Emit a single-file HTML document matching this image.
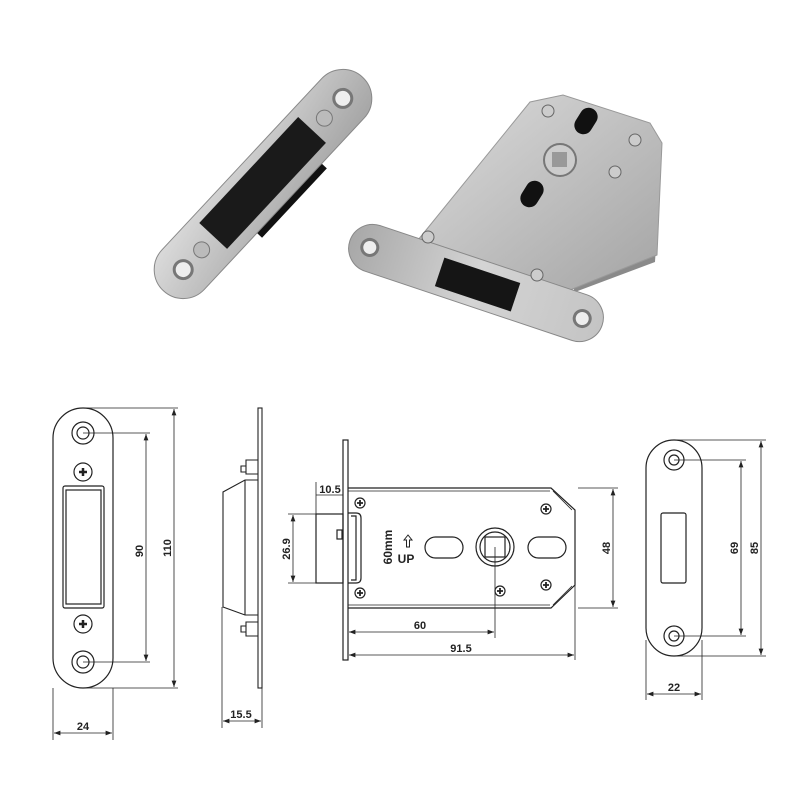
<!DOCTYPE html>
<html><head><meta charset="utf-8"><style>
html,body{margin:0;padding:0;background:#fff;}
svg{display:block;}
text{font-family:"Liberation Sans",sans-serif;font-weight:bold;font-size:11px;fill:#222;}
</style></head><body>
<svg width="800" height="800" viewBox="0 0 800 800" xmlns="http://www.w3.org/2000/svg">
<defs>
<linearGradient id="steel" x1="0" y1="0" x2="1" y2="1">
<stop offset="0" stop-color="#dcdcdc"/><stop offset="0.5" stop-color="#c0c0c0"/><stop offset="1" stop-color="#a4a4a4"/></linearGradient>
<linearGradient id="steel2" x1="0" y1="0" x2="1" y2="0">
<stop offset="0" stop-color="#a8a8a8"/><stop offset="0.5" stop-color="#d4d4d4"/><stop offset="1" stop-color="#c4c4c4"/></linearGradient>
<marker id="a" markerWidth="8" markerHeight="6" refX="8" refY="3" orient="auto-start-reverse"><path d="M0,0 L8,3 L0,6 z" fill="#222"/></marker>
</defs>

<!-- Photo: strike plate -->
<g transform="translate(263,184) rotate(-47)">
<rect x="-40" y="6" width="95" height="30" fill="#111"/>
<rect x="-146" y="-29" width="292" height="58" rx="29" fill="url(#steel)" stroke="#888"/>
<rect x="-72" y="-20" width="145" height="38" fill="#1a1a1a"/>
<circle cx="-117" cy="0" r="9" fill="#eee" stroke="#777" stroke-width="3"/>
<circle cx="117" cy="0" r="9" fill="#eee" stroke="#777" stroke-width="3"/>
<circle cx="-90" cy="0" r="8" fill="#bbb" stroke="#777"/>
<circle cx="90" cy="0" r="8" fill="#bbb" stroke="#777"/>
</g>

<!-- Photo: lock body -->
<polygon points="662,143 660,180 655,262 575,292 570,280 650,250 652,135" fill="#8a8a8a"/>
<polygon points="418,240 530,102 563,95 650,123 662,143 657,255 570,290" fill="url(#steel)" stroke="#999"/>
<rect x="572" y="112" width="28" height="18" rx="9" transform="rotate(-58 586 121)" fill="#111"/>
<rect x="518" y="185" width="28" height="18" rx="9" transform="rotate(-58 532 194)" fill="#111"/>
<circle cx="560" cy="160" r="16" fill="#ccc" stroke="#777" stroke-width="2"/>
<rect x="552" y="152" width="15" height="15" fill="#999"/>
<circle cx="548" cy="111" r="6" fill="#ccc" stroke="#666"/>
<circle cx="635" cy="140" r="6" fill="#ccc" stroke="#666"/>
<circle cx="615" cy="172" r="6" fill="#ccc" stroke="#666"/>
<g transform="translate(476,283) rotate(18.5)">
<rect x="-133" y="-24" width="266" height="48" rx="24" fill="url(#steel2)" stroke="#888"/>
<rect x="-38" y="-14" width="80" height="30" fill="#151515"/>
<circle cx="-112" cy="0" r="8" fill="#eee" stroke="#777" stroke-width="3"/>
<circle cx="112" cy="0" r="8" fill="#eee" stroke="#777" stroke-width="3"/>
</g>
<circle cx="428" cy="237" r="6" fill="#ccc" stroke="#666"/>
<circle cx="537" cy="275" r="6" fill="#ccc" stroke="#666"/>

<!-- Drawing 1: strike front -->
<g fill="none" stroke="#222" stroke-width="1.2">
<rect x="53" y="408" width="60" height="280" rx="30"/>
<circle cx="83" cy="433" r="11"/><circle cx="83" cy="433" r="6"/>
<circle cx="83" cy="662" r="11"/><circle cx="83" cy="662" r="6"/>
<circle cx="83" cy="472" r="9"/><circle cx="83" cy="624" r="9"/>
<path d="M79,472h8M83,468v8M79,624h8M83,620v8" stroke-width="2.5"/>
<rect x="63" y="486" width="41" height="122" rx="2"/>
<rect x="66" y="490" width="35" height="114"/>
<g stroke-width="0.8">
<line x1="83" y1="433" x2="150" y2="433"/><line x1="83" y1="662" x2="150" y2="662"/>
<line x1="83" y1="408" x2="178" y2="408"/><line x1="83" y1="688" x2="178" y2="688"/>
<line x1="146" y1="434" x2="146" y2="661" marker-start="url(#a)" marker-end="url(#a)"/>
<line x1="174" y1="409" x2="174" y2="687" marker-start="url(#a)" marker-end="url(#a)"/>
<line x1="53" y1="688" x2="53" y2="740"/><line x1="113" y1="688" x2="113" y2="740"/>
<line x1="54" y1="733" x2="112" y2="733" marker-start="url(#a)" marker-end="url(#a)"/>
</g>
</g>
<text x="0" y="0" transform="translate(143,551) rotate(-90)" text-anchor="middle">90</text>
<text x="0" y="0" transform="translate(171,548) rotate(-90)" text-anchor="middle">110</text>
<text x="83" y="730" text-anchor="middle">24</text>

<!-- Drawing 2: strike side -->
<g fill="none" stroke="#222" stroke-width="1.1">
<rect x="258" y="408" width="4" height="280"/>
<path d="M258,460h-12v14h12M246,466h-5v6h5"/>
<path d="M258,622h-12v14h12M246,626h-5v6h5"/>
<path d="M258,480h-13l-22,12v115l22,8h13"/>
<path d="M245,480v135"/>
<g stroke-width="0.8">
<line x1="222" y1="607" x2="222" y2="728"/><line x1="262" y1="688" x2="262" y2="728"/>
<line x1="223" y1="721" x2="261" y2="721" marker-start="url(#a)" marker-end="url(#a)"/>
</g>
</g>
<text x="241" y="718" text-anchor="middle">15.5</text>

<!-- Drawing 3: lock side -->
<g fill="none" stroke="#222" stroke-width="1.2">
<rect x="343" y="440" width="5" height="220"/>
<path d="M348,488H551L575,510V585L551,608H348"/>
<path d="M348,491H550M348,605H550" stroke-width="0.8"/>
<path d="M553,491L572,510M553,605L572,586" stroke-width="0.8"/>
<rect x="316" y="514" width="27" height="69"/>
<path d="M348,513h8q5,0 5,5v60q0,5-5,5h-8M351,516h5v64h-5"/>
<rect x="337" y="530" width="5" height="9"/>
<circle cx="360" cy="503" r="5"/><circle cx="360" cy="593" r="5"/>
<circle cx="546" cy="509" r="5"/><circle cx="546" cy="585" r="5"/>
<circle cx="500" cy="591" r="5"/>
<path d="M357,503h6M360,500v6M357,593h6M360,590v6M543,509h6M546,506v6M543,585h6M546,582v6M497,591h6M500,588v6" stroke-width="1.8"/>
<rect x="425" y="537" width="38" height="21" rx="10.5"/>
<rect x="528" y="537" width="38" height="21" rx="10.5"/>
<circle cx="495" cy="547" r="19"/><circle cx="495" cy="547" r="15"/>
<rect x="485" y="537" width="20" height="20"/>
<path d="M404,540l4,-5l4,5h-2.5v7h-3v-7z" stroke-width="1"/>
<g stroke-width="0.8">
<line x1="495" y1="547" x2="495" y2="638"/>
<line x1="349" y1="632" x2="494" y2="632" marker-start="url(#a)" marker-end="url(#a)"/>
<line x1="575" y1="585" x2="575" y2="660"/>
<line x1="349" y1="655" x2="574" y2="655" marker-start="url(#a)" marker-end="url(#a)"/>
<line x1="578" y1="488" x2="618" y2="488"/><line x1="578" y1="608" x2="618" y2="608"/>
<line x1="613" y1="489" x2="613" y2="607" marker-start="url(#a)" marker-end="url(#a)"/>
<line x1="316" y1="482" x2="316" y2="514"/>
<line x1="316" y1="495" x2="343" y2="495"/>
<line x1="288" y1="514" x2="316" y2="514"/><line x1="288" y1="583" x2="316" y2="583"/>
<line x1="293" y1="515" x2="293" y2="582" marker-start="url(#a)" marker-end="url(#a)"/>
</g>
</g>
<text x="330" y="493" text-anchor="middle">10.5</text>
<text transform="translate(290,549) rotate(-90)" text-anchor="middle">26.9</text>
<text transform="translate(614,548) rotate(-90)" text-anchor="middle" dy="-4">48</text>
<text x="420" y="629" text-anchor="middle">60</text>
<text x="461" y="652" text-anchor="middle">91.5</text>
<text transform="translate(392,547) rotate(-90)" text-anchor="middle" style="font-size:12px">60mm</text>
<text x="406" y="563" text-anchor="middle" style="font-size:12px">UP</text>

<!-- Drawing 4: right strike -->
<g fill="none" stroke="#222" stroke-width="1.2">
<rect x="646" y="440" width="56" height="216" rx="28"/>
<circle cx="674" cy="460" r="10"/><circle cx="674" cy="460" r="5"/>
<circle cx="674" cy="636" r="10"/><circle cx="674" cy="636" r="5"/>
<rect x="661" y="513" width="25" height="70" rx="2"/>
<g stroke-width="0.8">
<line x1="674" y1="460" x2="746" y2="460"/><line x1="674" y1="636" x2="746" y2="636"/>
<line x1="674" y1="440" x2="766" y2="440"/><line x1="674" y1="656" x2="766" y2="656"/>
<line x1="741" y1="461" x2="741" y2="635" marker-start="url(#a)" marker-end="url(#a)"/>
<line x1="761" y1="441" x2="761" y2="655" marker-start="url(#a)" marker-end="url(#a)"/>
<line x1="646" y1="640" x2="646" y2="700"/><line x1="702" y1="640" x2="702" y2="700"/>
<line x1="647" y1="694" x2="701" y2="694" marker-start="url(#a)" marker-end="url(#a)"/>
</g>
</g>
<text transform="translate(738,548) rotate(-90)" text-anchor="middle">69</text>
<text transform="translate(758,548) rotate(-90)" text-anchor="middle">85</text>
<text x="674" y="691" text-anchor="middle">22</text>
</svg>
</body></html>
